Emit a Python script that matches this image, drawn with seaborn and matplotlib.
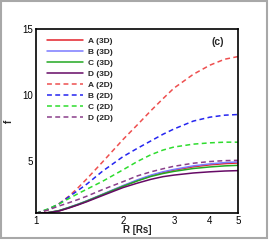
#!/usr/bin/env python3

import numpy as np
import pandas as pd
import matplotlib
matplotlib.use("Agg")
import matplotlib.pyplot as plt
import matplotlib.ticker as mticker
from matplotlib.patches import Rectangle
import seaborn as sns

# -----------------------------------------------------------------------------
# Data
# -----------------------------------------------------------------------------

r_vals = [1.0, 1.1, 1.2, 1.3, 1.4, 1.5, 1.7, 2.0, 2.25, 2.5, 2.75, 3.0, 3.5, 4.0, 4.5, 5.0]

a_3d = [1.0, 1.05, 1.18, 1.42, 1.67, 1.92, 2.42, 3.07, 3.5, 3.85, 4.1, 4.28, 4.53, 4.68, 4.77, 4.82]
b_3d = [1.0, 1.05, 1.2, 1.45, 1.7, 1.95, 2.45, 3.1, 3.55, 3.9, 4.15, 4.33, 4.6, 4.75, 4.85, 4.9]
c_3d = [1.0, 1.05, 1.2, 1.44, 1.68, 1.93, 2.42, 3.05, 3.47, 3.8, 4.02, 4.18, 4.4, 4.52, 4.6, 4.64]
d_3d = [1.0, 1.04, 1.17, 1.4, 1.64, 1.88, 2.35, 2.95, 3.3, 3.58, 3.78, 3.9, 4.06, 4.15, 4.21, 4.24]

a_2d = [1.0, 1.25, 1.72, 2.3, 2.95, 3.62, 4.9, 6.6, 7.75, 8.8, 9.7, 10.5, 11.55, 12.25, 12.7, 12.9]
b_2d = [1.0, 1.3, 1.7, 2.25, 2.75, 3.22, 4.2, 5.3, 5.95, 6.5, 7.0, 7.4, 8.0, 8.3, 8.45, 8.5]
c_2d = [1.0, 1.33, 1.7, 2.12, 2.5, 2.83, 3.43, 4.3, 4.95, 5.45, 5.8, 6.03, 6.25, 6.35, 6.4, 6.4]
d_2d = [1.0, 1.25, 1.55, 1.8, 2.05, 2.3, 2.8, 3.4, 3.85, 4.15, 4.38, 4.57, 4.8, 4.93, 5.0, 5.02]

series_labels = ["A (3D)", "B (3D)", "C (3D)", "D (3D)",
                 "A (2D)", "B (2D)", "C (2D)", "D (2D)"]
series_values = [a_3d, b_3d, c_3d, d_3d, a_2d, b_2d, c_2d, d_2d]
series_colors = ["#e3222a", "#7a7aff", "#22a822", "#660a66",
                 "#ee4f4f", "#2525f0", "#2edc2e", "#8a3f8a"]

x_ticks = [1, 2, 3, 4, 5]
y_ticks = [5, 10, 15]

# -----------------------------------------------------------------------------
# Setup
# -----------------------------------------------------------------------------

sns.set_theme(style="white")
plt.rcParams["font.family"] = ["Liberation Sans", "DejaVu Sans"]

fig = plt.figure(figsize=(2.71, 2.41), dpi=100)
fig.patch.set_facecolor("white")
fig.patches.append(Rectangle((0.002, 0.012), 0.985, 0.984, transform=fig.transFigure,
                             fill=False, edgecolor="#a8a8a8", linewidth=1.5))

ax = fig.add_axes([0.1328, 0.115, 0.7454, 0.765])

# -----------------------------------------------------------------------------
# Curves
# -----------------------------------------------------------------------------

for label, vals, color in zip(series_labels, series_values, series_colors):
    df = pd.DataFrame({"R": r_vals, "f": vals})
    sns.lineplot(data=df, x="R", y="f", ax=ax, color=color, lw=1.1,
                 label=label, estimator=None, sort=False)
    if "2D" in label:
        ax.lines[-1].set_dashes((3.2, 2.2))

ax.set_xscale("log")
ax.set_xlim(1, 5)
ax.set_ylim(1, 15)

ax.xaxis.set_major_locator(mticker.FixedLocator(x_ticks))
ax.xaxis.set_major_formatter(mticker.FixedFormatter([str(t) for t in x_ticks]))
ax.xaxis.set_minor_locator(mticker.NullLocator())
ax.yaxis.set_major_locator(mticker.FixedLocator(y_ticks))
ax.yaxis.set_minor_locator(mticker.MultipleLocator(1))

ax.tick_params(axis="both", which="major", direction="in", length=4, width=1,
               labelsize=7, pad=2, colors="black")
ax.tick_params(axis="y", which="minor", direction="in", length=2, width=0.6, colors="#555555")
ax.tick_params(axis="both", which="both", top=False, right=False)

for s in ax.spines.values():
    s.set_color("black")
    s.set_linewidth(1.2)

ax.set_xlabel("R [Rs]", fontsize=7, fontweight="bold", labelpad=-1)
ax.set_ylabel("f", fontsize=7, fontweight="bold", rotation=90)
ax.yaxis.set_label_coords(-0.11, 0.5)

ax.text(0.93, 0.93, "(c)", transform=ax.transAxes, fontsize=7.5, fontweight="bold",
        ha="right", va="center")

leg = ax.legend(loc="upper left", bbox_to_anchor=(0.03, 0.985), frameon=False,
                fontsize=6, handlelength=4.3, handletextpad=0.6, labelspacing=0.38,
                borderaxespad=0.2)
for t in leg.get_texts():
    t.set_fontweight("bold")

fig.savefig("out.png", dpi=100, facecolor="white")
